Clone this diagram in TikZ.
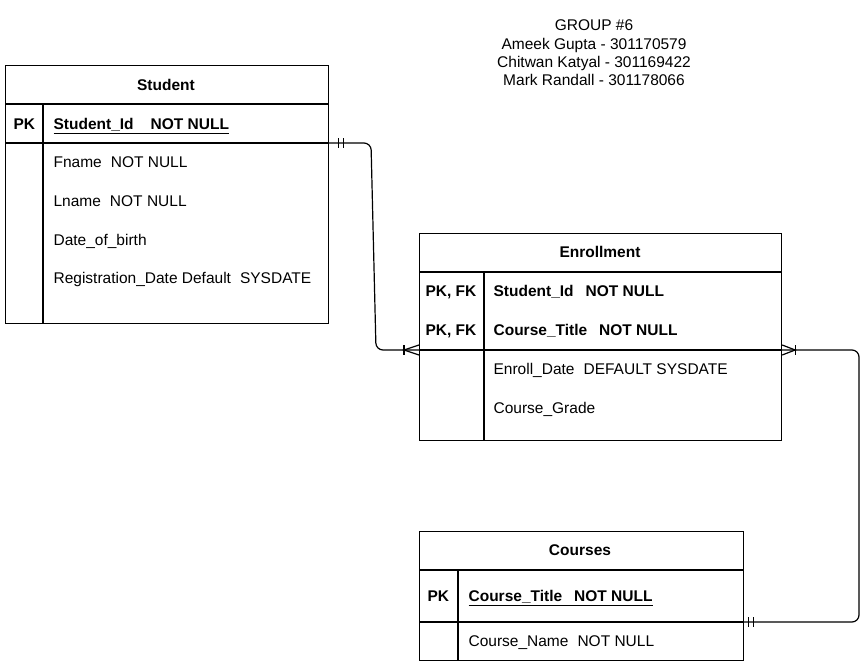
\documentclass[tikz,border=0pt]{standalone}
\usepackage{fontspec}
\setmainfont{Liberation Sans}
\begin{document}
\begin{tikzpicture}[x=1pt,y=-1pt,line width=1.2pt,
  tbl/.style={draw,rectangle,inner sep=0pt,anchor=north west},
  txt/.style={inner sep=0pt,anchor=west,text height=11.1pt,text depth=0pt,font=\fontsize{15.5}{18}\selectfont},
  hdr/.style={txt,anchor=center,font=\fontsize{15.5}{18}\selectfont\bfseries},
  keyt/.style={txt,font=\fontsize{15.5}{18}\selectfont\bfseries},
  conn/.style={line width=1.2pt,rounded corners=7pt},
  ermark/.style={line width=1.2pt}]
\useasboundingbox (0,0) rectangle (865,670);

% title
\node[txt,anchor=center] (g0) at (594,25) {GROUP \#6};
\node[txt,anchor=center] (g1) at (594,44) {Ameek Gupta - 301170579};
\node[txt,anchor=center] (g2) at (594,62) {Chitwan Katyal - 301169422};
\node[txt,anchor=center] (g3) at (594,80) {Mark Randall - 301178066};

% Student
\node[tbl,minimum width=323pt,minimum height=258pt] (stu) at (5,65) {};
\draw (5,104) -- (328,104);
\draw (5,143) -- (328,143);
\draw (43,104) -- (43,323);
\node[hdr] (stuh) at (166,85) {Student};
\node[keyt] (stupk) at (13,124) {PK};
\node[keyt] (stuid) at (53,124) {\underline{Student\_Id\hspace{17pt}NOT NULL}};
\node[txt] (stu1) at (53,162) {Fname\hspace{9pt}NOT NULL};
\node[txt] (stu2) at (53,201) {Lname\hspace{9pt}NOT NULL};
\node[txt] (stu3) at (53,240) {Date\_of\_birth};
\node[txt] (stu4) at (53,278) {Registration\_Date Default\hspace{9pt}SYSDATE};

% Enrollment
\node[tbl,minimum width=362pt,minimum height=207pt] (enr) at (419,233) {};
\draw (419,272) -- (781,272);
\draw (419,350) -- (781,350);
\draw (484,272) -- (484,440);
\node[hdr] (enrh) at (600,252) {Enrollment};
\node[keyt] (enrpk1) at (425,291) {PK, FK};
\node[keyt] (enrpk2) at (425,330) {PK, FK};
\node[keyt] (enr1) at (493,291) {Student\_Id\hspace{12pt}NOT NULL};
\node[keyt] (enr2) at (493,330) {Course\_Title\hspace{12pt}NOT NULL};
\node[txt] (enr3) at (493,369) {Enroll\_Date\hspace{9pt}DEFAULT SYSDATE};
\node[txt] (enr4) at (493,408) {Course\_Grade};

% Courses
\node[tbl,minimum width=324pt,minimum height=129pt] (crs) at (419,531) {};
\draw (419,570) -- (743,570);
\draw (419,622) -- (743,622);
\draw (458,570) -- (458,660);
\node[hdr] (crsh) at (580,550) {Courses};
\node[keyt] (crspk) at (427,596) {PK};
\node[keyt] (crs1) at (468,596) {\underline{Course\_Title\hspace{12pt}NOT NULL}};
\node[txt] (crs2) at (468,641) {Course\_Name\hspace{9pt}NOT NULL};

% connector Student -> Enrollment
\coordinate (s1) at (stu.east |- 0,143);
\coordinate (e1) at (enr.west |- 0,350);
\draw[conn] (s1) -- (371,143) -- (376,350) -- (e1);
\draw[ermark] ([xshift=9pt]s1) ++(0,-5) -- ++(0,10);
\draw[ermark] ([xshift=14pt]s1) ++(0,-5) -- ++(0,10);
\draw[ermark] ([xshift=-15pt]e1) ++(0,-5) -- ++(0,10);
\draw[ermark] ([yshift=-5pt]e1) -- ([xshift=-15pt]e1) -- ([yshift=5pt]e1);

% connector Courses -> Enrollment
\coordinate (c1) at (crs.east |- 0,622);
\coordinate (e2) at (enr.east |- 0,350);
\draw[conn] (c1) -- (859,622) -- (859,350) -- (e2);
\draw[ermark] ([xshift=4pt]c1) ++(0,-5) -- ++(0,10);
\draw[ermark] ([xshift=9pt]c1) ++(0,-5) -- ++(0,10);
\draw[ermark] ([xshift=13pt]e2) ++(0,-5) -- ++(0,10);
\draw[ermark] ([yshift=-5pt]e2) -- ([xshift=13pt]e2) -- ([yshift=5pt]e2);
\end{tikzpicture}
\end{document}
